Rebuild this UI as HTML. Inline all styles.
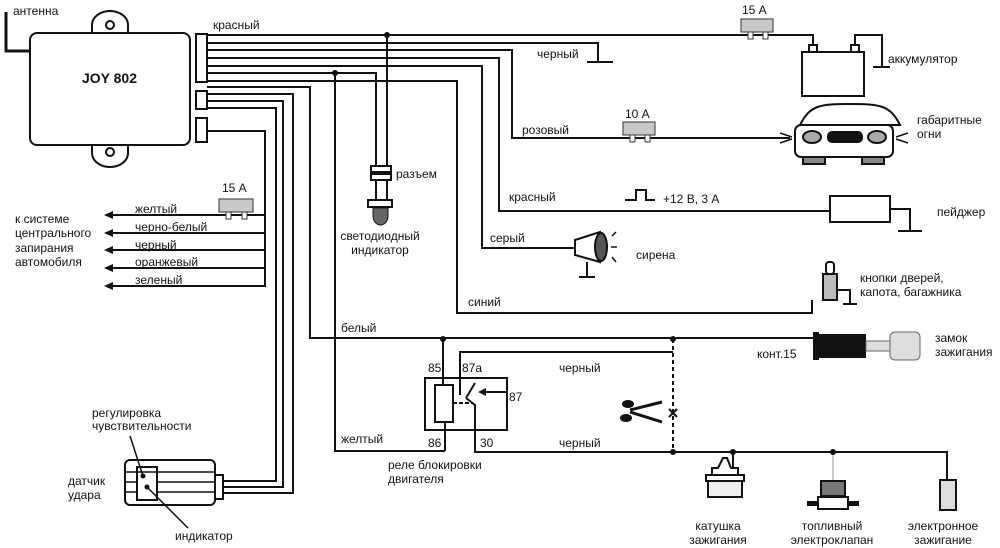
<!DOCTYPE html>
<html><head><meta charset="utf-8"><style>
html,body{margin:0;padding:0;background:#fff;}
svg{display:block;}
text{font-family:"Liberation Sans","DejaVu Sans",sans-serif;font-size:12px;fill:#111;}
</style></head><body>
<svg width="1000" height="548" viewBox="0 0 1000 548" xmlns="http://www.w3.org/2000/svg">
<g fill="none" stroke="#111" stroke-width="2">
<!-- antenna -->
<polyline points="6,12 6,51 30,51" stroke-width="3"/>
<!-- main unit ears -->
<path d="M92,33 V25 a18,14 0 0 1 36,0 V33" fill="#fff"/>
<path d="M92,145 V153 a18,14 0 0 0 36,0 V145" fill="#fff"/>
<circle cx="110" cy="25" r="4"/><circle cx="110" cy="152" r="4"/>
<rect x="30" y="33" width="160" height="112" rx="7" fill="#fff"/>
<rect x="196" y="34" width="11" height="48"/>
<rect x="196" y="91" width="11" height="18"/>
<rect x="196" y="118" width="11" height="24"/>
<!-- connector 1 wires -->
<polyline points="207,35 813,35 813,47"/>
<polyline points="207,43 598,43 598,62"/>
<polyline points="207,50 512,50 512,138 790,138"/>
<polyline points="207,58 499,58 499,211 830,211"/>
<polyline points="207,66 482,66 482,248 575,248"/>
<polyline points="207,73 376,73 376,166"/>
<polyline points="207,81 457,81 457,313 812,313 812,300"/>
<polyline points="207,87 310,87 310,338 815,338"/>
<line x1="387" y1="35" x2="387" y2="166"/>
<polyline points="335,73 335,451 445,451"/>
<!-- connector 2 -->
<polyline points="207,94 293,94 293,493 222,493"/>
<polyline points="207,101 283,101 283,487 222,487"/>
<polyline points="207,108 276,108 276,481 222,481"/>
<!-- connector 3 -->
<polyline points="207,131 265,131 265,287"/>
<!-- central locking lines -->
<line x1="110" y1="215" x2="265" y2="215"/>
<line x1="110" y1="233" x2="265" y2="233"/>
<line x1="110" y1="250" x2="265" y2="250"/>
<line x1="110" y1="268" x2="265" y2="268"/>
<line x1="110" y1="286" x2="265" y2="286"/>
<!-- grounds -->
<line x1="587" y1="62" x2="613" y2="62"/>
<!-- battery -->
<rect x="802" y="52" width="62" height="44"/>
<rect x="809" y="45" width="8" height="7" fill="#fff"/>
<rect x="851" y="45" width="8" height="7" fill="#fff"/>
<polyline points="855,45 855,35 882,35 882,67"/>
<line x1="873" y1="67" x2="890" y2="67"/>
<!-- pager -->
<rect x="830" y="196" width="60" height="26"/>
<polyline points="890,209 910,209 910,231"/>
<line x1="898" y1="231" x2="922" y2="231"/>
<polyline points="625,200 636,200 636,190 646,190 646,200 655,200"/>
<!-- siren -->
<line x1="587" y1="262" x2="587" y2="277"/><line x1="579" y1="277" x2="595" y2="277"/>
<!-- door switch -->
<rect x="826" y="262" width="8" height="12" rx="3"/>
<rect x="823" y="274" width="14" height="26" fill="#bbb"/>
<polyline points="837,290 850,290 850,304"/>
<line x1="843" y1="304" x2="857" y2="304"/>
<!-- relay -->
<rect x="425" y="378" width="82" height="52"/>
<rect x="435" y="385" width="18" height="37"/>
<line x1="443" y1="339" x2="443" y2="385"/>
<line x1="445" y1="422" x2="445" y2="451"/>
<polyline points="460,395 460,352 673,352"/>
<polyline points="475,383 466,398"/>
<polyline points="466,398 475,405 475,452 947,452 947,480"/>
<line x1="480" y1="392" x2="507" y2="392"/>
<line x1="453" y1="403" x2="472" y2="403" stroke-dasharray="4,2"/>
<line x1="673" y1="339" x2="673" y2="452" stroke-dasharray="4,3"/>
<line x1="733" y1="452" x2="733" y2="468"/>
<line x1="833" y1="452" x2="833" y2="480" stroke="#999" stroke-width="1"/>
<rect x="940" y="480" width="16" height="30" fill="#ddd"/>
</g>
<!-- arrowheads -->
<g fill="#111">
<polygon points="104,215 113,211 113,219"/>
<polygon points="104,233 113,229 113,237"/>
<polygon points="104,250 113,246 113,254"/>
<polygon points="104,268 113,264 113,272"/>
<polygon points="104,286 113,282 113,290"/>
<polygon points="478,392 486,388 486,396"/>
<circle cx="387" cy="35" r="3"/><circle cx="335" cy="73" r="3"/>
<circle cx="443" cy="339" r="3"/><circle cx="673" cy="339" r="3"/>
<circle cx="673" cy="452" r="3"/><circle cx="733" cy="452" r="3"/><circle cx="833" cy="452" r="3"/>
</g>
<!-- x mark -->
<g stroke="#111" stroke-width="2"><line x1="669" y1="409" x2="677" y2="417"/><line x1="677" y1="409" x2="669" y2="417"/></g>
<!-- scissors -->
<g stroke="#111" stroke-width="3" fill="none"><line x1="630" y1="410" x2="662" y2="402"/><line x1="630" y1="412" x2="662" y2="422"/></g>
<ellipse cx="628" cy="404" rx="6" ry="4" fill="#111"/><ellipse cx="626" cy="418" rx="6" ry="4" fill="#111"/>
<!-- fuses -->
<g stroke="#333" stroke-width="1">
<rect x="741" y="19" width="32" height="13" fill="#c8c8c8"/><rect x="748" y="32" width="5" height="7" fill="#fff"/><rect x="763" y="32" width="5" height="7" fill="#fff"/>
<rect x="623" y="122" width="32" height="13" fill="#c8c8c8"/><rect x="630" y="135" width="5" height="7" fill="#fff"/><rect x="645" y="135" width="5" height="7" fill="#fff"/>
<rect x="219" y="199" width="34" height="13" fill="#c8c8c8"/><rect x="226" y="212" width="5" height="7" fill="#fff"/><rect x="242" y="212" width="5" height="7" fill="#fff"/>
</g>
<!-- LED -->
<g stroke="#111" stroke-width="2">
<rect x="371" y="166" width="20" height="6" fill="#fff"/><rect x="371" y="174" width="20" height="6" fill="#fff"/>
<line x1="376" y1="180" x2="376" y2="200"/><line x1="387" y1="180" x2="387" y2="200"/>
<rect x="368" y="200" width="24" height="7" fill="#fff"/>
</g>
<path d="M373,208 h15 v8 a7.5,9 0 0 1 -15,0 z" fill="#666" stroke="#111"/>
<!-- siren -->
<path d="M575,240 L600,232 L600,262 L575,255 Z" fill="#fff" stroke="#111" stroke-width="2"/>
<ellipse cx="601" cy="247" rx="6" ry="14" fill="#555" stroke="#111" stroke-width="2"/>
<g stroke="#111" stroke-width="1.5"><line x1="612" y1="236" x2="616" y2="232"/><line x1="611" y1="247" x2="617" y2="247"/><line x1="612" y1="257" x2="616" y2="262"/></g>
<!-- car -->
<g stroke="#111" stroke-width="2" fill="#fff">
<path d="M800,125 C810,105 820,104 850,104 C880,104 890,105 900,125 Z"/>
<rect x="795" y="125" width="98" height="32" rx="6"/>
<rect x="803" y="157" width="22" height="7" fill="#888"/><rect x="862" y="157" width="22" height="7" fill="#888"/>
<ellipse cx="812" cy="137" rx="9" ry="6" fill="#aaa"/><ellipse cx="877" cy="137" rx="9" ry="6" fill="#aaa"/>
</g>
<rect x="827" y="131" width="36" height="12" rx="5" fill="#111"/>
<g stroke="#111" stroke-width="1.5"><line x1="780" y1="133" x2="792" y2="137"/><line x1="780" y1="143" x2="792" y2="139"/><line x1="896" y1="137" x2="908" y2="133"/><line x1="896" y1="139" x2="908" y2="143"/></g>
<!-- ignition lock -->
<rect x="813" y="332" width="6" height="28" fill="#111"/>
<rect x="818" y="334" width="48" height="24" fill="#111"/>
<rect x="866" y="341" width="26" height="10" fill="#ddd" stroke="#666"/>
<rect x="890" y="332" width="30" height="28" rx="5" fill="#ddd" stroke="#666"/>
<!-- shock sensor -->
<g stroke="#111" stroke-width="2" fill="#fff">
<rect x="125" y="460" width="90" height="45" rx="5"/>
<rect x="215" y="475" width="8" height="24"/>
<rect x="137" y="467" width="20" height="33"/>
</g>
<g stroke="#111" stroke-width="1.5"><line x1="125" y1="472" x2="215" y2="472"/><line x1="157" y1="482" x2="215" y2="482"/><line x1="157" y1="492" x2="215" y2="492"/><line x1="125" y1="482" x2="137" y2="482"/><line x1="125" y1="492" x2="137" y2="492"/>
<line x1="130" y1="436" x2="143" y2="476"/><line x1="147" y1="487" x2="188" y2="528"/></g>
<circle cx="143" cy="476" r="2.5" fill="#111"/><circle cx="147" cy="487" r="2.5" fill="#111"/>
<!-- coil -->
<path d="M712,468 L718,468 L723,458 L727,458 L731,468 L738,468 L738,475 L712,475 Z" fill="#fff" stroke="#111" stroke-width="2"/>
<rect x="706" y="475" width="38" height="6" fill="#fff" stroke="#111" stroke-width="2"/>
<rect x="708" y="481" width="34" height="16" fill="#eee" stroke="#111" stroke-width="2"/>
<!-- valve -->
<rect x="821" y="481" width="24" height="15" fill="#777" stroke="#111" stroke-width="2"/>
<rect x="807" y="501" width="10" height="5" fill="#111"/><rect x="849" y="501" width="10" height="5" fill="#111"/>
<rect x="818" y="497" width="30" height="12" fill="#fff" stroke="#111" stroke-width="2"/>
<!-- labels -->
<text x="13" y="15">антенна</text>
<text x="82" y="83" style="font-weight:bold;font-size:14px">JOY 802</text>
<text x="213" y="29">красный</text>
<text x="222" y="192">15 А</text>
<text x="135" y="213">желтый</text>
<text x="135" y="231">черно-белый</text>
<text x="135" y="249">черный</text>
<text x="135" y="266">оранжевый</text>
<text x="135" y="284">зеленый</text>
<text x="15" y="223">к системе</text>
<text x="15" y="237">центрального</text>
<text x="15" y="252">запирания</text>
<text x="15" y="266">автомобиля</text>
<text x="396" y="178">разъем</text>
<text x="380" y="240" text-anchor="middle">светодиодный</text>
<text x="380" y="254" text-anchor="middle">индикатор</text>
<text x="537" y="58">черный</text>
<text x="742" y="14">15 А</text>
<text x="888" y="63">аккумулятор</text>
<text x="522" y="134">розовый</text>
<text x="625" y="118">10 А</text>
<text x="917" y="124">габаритные</text>
<text x="917" y="138">огни</text>
<text x="509" y="201">красный</text>
<text x="663" y="203">+12 В, 3 А</text>
<text x="937" y="216">пейджер</text>
<text x="490" y="242">серый</text>
<text x="636" y="259">сирена</text>
<text x="860" y="282">кнопки дверей,</text>
<text x="860" y="296">капота, багажника</text>
<text x="468" y="306">синий</text>
<text x="341" y="332">белый</text>
<text x="757" y="358">конт.15</text>
<text x="935" y="342">замок</text>
<text x="935" y="356">зажигания</text>
<text x="428" y="372">85</text>
<text x="462" y="372">87а</text>
<text x="509" y="401">87</text>
<text x="559" y="372">черный</text>
<text x="559" y="447">черный</text>
<text x="341" y="443">желтый</text>
<text x="428" y="447">86</text>
<text x="480" y="447">30</text>
<text x="388" y="469">реле блокировки</text>
<text x="388" y="483">двигателя</text>
<text x="92" y="417">регулировка</text>
<text x="92" y="430">чувствительности</text>
<text x="68" y="485">датчик</text>
<text x="68" y="499">удара</text>
<text x="175" y="540">индикатор</text>
<text x="718" y="530" text-anchor="middle">катушка</text>
<text x="718" y="544" text-anchor="middle">зажигания</text>
<text x="832" y="530" text-anchor="middle">топливный</text>
<text x="832" y="544" text-anchor="middle">электроклапан</text>
<text x="943" y="530" text-anchor="middle">электронное</text>
<text x="943" y="544" text-anchor="middle">зажигание</text>
</svg>
</body></html>
